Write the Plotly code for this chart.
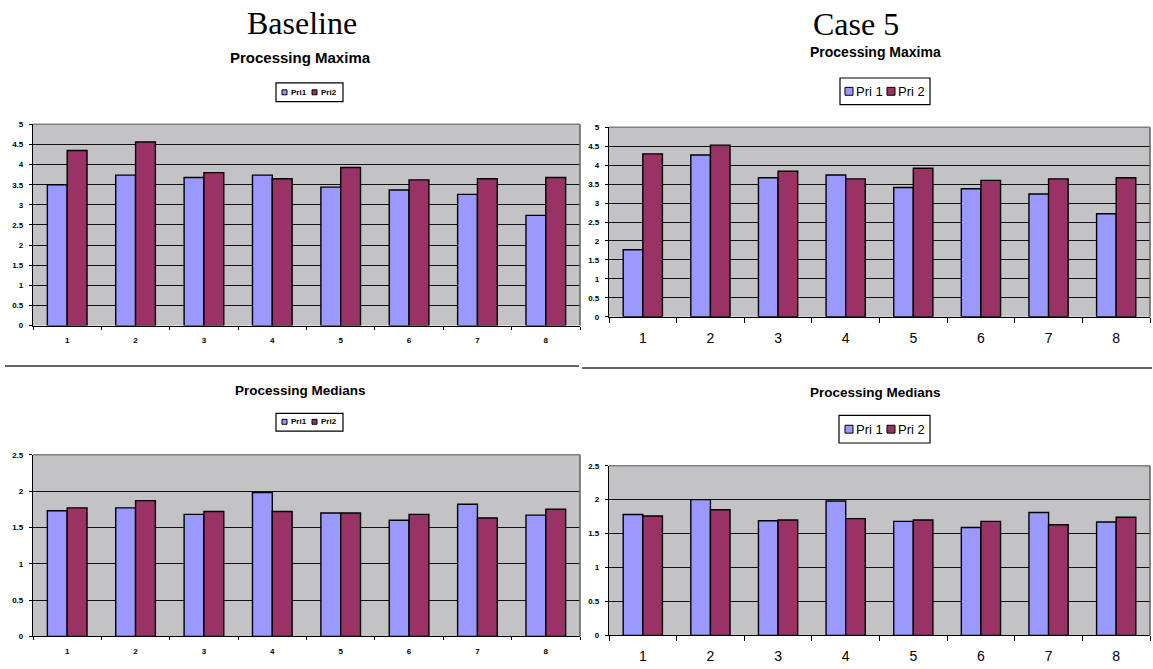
import plotly.graph_objects as go

# ---- data ----
categories = ["1", "2", "3", "4", "5", "6", "7", "8"]

baseline_names = ["Pri1", "Pri2"]
case5_names = ["Pri 1", "Pri 2"]

baseline_max_pri1 = [3.50, 3.74, 3.68, 3.74, 3.44, 3.37, 3.26, 2.74]
baseline_max_pri2 = [4.35, 4.56, 3.80, 3.65, 3.93, 3.62, 3.65, 3.68]

case5_max_pri1 = [1.77, 4.27, 3.67, 3.74, 3.41, 3.38, 3.24, 2.72]
case5_max_pri2 = [4.30, 4.53, 3.84, 3.64, 3.92, 3.60, 3.64, 3.67]

baseline_med_pri1 = [1.73, 1.77, 1.68, 1.98, 1.70, 1.60, 1.82, 1.67]
baseline_med_pri2 = [1.77, 1.87, 1.72, 1.72, 1.70, 1.68, 1.63, 1.75]

case5_med_pri1 = [1.78, 2.00, 1.69, 1.98, 1.68, 1.59, 1.81, 1.67]
case5_med_pri2 = [1.76, 1.85, 1.70, 1.72, 1.70, 1.68, 1.63, 1.74]

# ---- styling ----
W, H = 1153, 669
PRI1_COLOR = "#9999FF"
PRI2_COLOR = "#993366"
PLOT_BG = "#C3C2C5"
FONT = "Liberation Sans, Arial, sans-serif"
SERIF = "Liberation Serif, Times New Roman, serif"


def px(x):
    return x / W


def py(y):
    return 1 - y / H


# panel layout: (suffix, left, top, right, bottom, y max, small x labels, names, values)
panels = [
    dict(ax="", box=(33, 122, 580, 326), ymax=5, small=True,
         names=baseline_names, vals=(baseline_max_pri1, baseline_max_pri2)),
    dict(ax="2", box=(609, 125, 1150, 317), ymax=5, small=False,
         names=case5_names, vals=(case5_max_pri1, case5_max_pri2)),
    dict(ax="3", box=(33, 457, 580, 641), ymax=2.5, small=True,
         names=baseline_names, vals=(baseline_med_pri1, baseline_med_pri2)),
    dict(ax="4", box=(609, 468, 1150, 640), ymax=2.5, small=False,
         names=case5_names, vals=(case5_med_pri1, case5_med_pri2)),
]

fig = go.Figure()
layout = dict(
    width=W, height=H, autosize=False,
    margin=dict(l=0, r=0, t=0, b=0),
    paper_bgcolor="white", plot_bgcolor=PLOT_BG,
    barmode="group", bargap=0.42, bargroupgap=0.0,
    showlegend=False,
    font=dict(family=FONT, color="black"),
)
shapes = []
annotations = []

small_bold = dict(family=FONT, size=8, color="black", weight="bold")

for p in panels:
    s = p["ax"]
    x0, y0, x1, y1 = p["box"]
    xref = "x" + s
    yref = "y" + s
    for name, vals, color in zip(p["names"], p["vals"], (PRI1_COLOR, PRI2_COLOR)):
        fig.add_trace(go.Bar(
            x=categories, y=vals, name=name, xaxis=xref, yaxis=yref,
            marker=dict(color=color, line=dict(color="black", width=1.4)),
        ))
    xfont = small_bold if p["small"] else dict(family=FONT, size=14, color="black")
    layout["xaxis" + s] = dict(
        domain=[px(x0), px(x1)], anchor=yref, type="category",
        showgrid=False, zeroline=False,
        showline=True, linecolor="black", linewidth=1.2,
        ticks="outside", tickson="boundaries", ticklen=3 if p["small"] else 5,
        tickcolor="black", tickwidth=1,
        tickfont=xfont, ticklabelstandoff=7 if p["small"] else 8,
        fixedrange=True,
    )
    layout["yaxis" + s] = dict(
        domain=[py(y1), py(y0)], anchor=xref,
        range=[0, p["ymax"]], dtick=0.5, tick0=0,
        showgrid=True, gridcolor="#111111", gridwidth=1.3,
        zeroline=False,
        showline=True, linecolor="black", linewidth=1.2,
        ticks="outside", ticklen=3, tickcolor="black", tickwidth=1,
        tickfont=small_bold, ticklabelstandoff=4,
        fixedrange=True,
    )
    # plot-area border on top and right
    shapes.append(dict(type="line", xref=xref + " domain", yref=yref + " domain",
                       x0=0, x1=1, y0=1, y1=1, line=dict(color="#808080", width=1.5)))
    shapes.append(dict(type="line", xref=xref + " domain", yref=yref + " domain",
                       x0=1, x1=1, y0=0, y1=1, line=dict(color="#606060", width=1.5)))

# column headings
annotations.append(dict(text="Baseline", x=px(302), y=py(19), xref="paper", yref="paper",
                        showarrow=False, xanchor="center", yanchor="middle",
                        font=dict(family=SERIF, size=32, color="black")))
annotations.append(dict(text="Case 5", x=px(856), y=py(20), xref="paper", yref="paper",
                        showarrow=False, xanchor="center", yanchor="middle",
                        font=dict(family=SERIF, size=32, color="black")))

# chart titles
titles = [
    ("Processing Maxima", 300, 54, 15),
    ("Processing Maxima", 875, 49, 14),
    ("Processing Medians", 300, 392, 13.5),
    ("Processing Medians", 875, 394, 13.5),
]
for text, cx, cy, size in titles:
    annotations.append(dict(text=text, x=px(cx), y=py(cy), xref="paper", yref="paper",
                            showarrow=False, xanchor="center", yanchor="middle",
                            font=dict(family=FONT, size=size, color="black", weight="bold")))

# legend boxes: box, swatch size, swatch x positions, text x positions, centre y, font, names
legends = [
    dict(box=(276, 80, 343, 99), sw=5, swx=(282, 312), tx=(289, 319), cy=89.5,
         font=small_bold, names=baseline_names),
    dict(box=(840, 75, 930, 102), sw=8, swx=(845, 887), tx=(854, 896), cy=88.5,
         font=dict(family=FONT, size=13, color="black"), names=case5_names),
    dict(box=(276, 415, 343, 433), sw=5, swx=(282, 312), tx=(289, 319), cy=423.5,
         font=small_bold, names=baseline_names),
    dict(box=(839, 417, 930, 445), sw=8, swx=(845, 887), tx=(854, 896), cy=431,
         font=dict(family=FONT, size=13, color="black"), names=case5_names),
]
for lg in legends:
    bx0, by0, bx1, by1 = lg["box"]
    shapes.append(dict(type="rect", xref="paper", yref="paper",
                       x0=px(bx0), x1=px(bx1), y0=py(by1), y1=py(by0),
                       line=dict(color="black", width=1.2), fillcolor="white", layer="above"))
    half = lg["sw"] / 2
    for sx, tx, name, color in zip(lg["swx"], lg["tx"], lg["names"], (PRI1_COLOR, PRI2_COLOR)):
        shapes.append(dict(type="rect", xref="paper", yref="paper",
                           x0=px(sx), x1=px(sx + lg["sw"]),
                           y0=py(lg["cy"] + half), y1=py(lg["cy"] - half),
                           line=dict(color="black", width=1), fillcolor=color, layer="above"))
        annotations.append(dict(text=name, x=px(tx), y=py(lg["cy"]), xref="paper", yref="paper",
                                showarrow=False, xanchor="left", yanchor="middle",
                                font=lg["font"]))

# separators between the upper and lower charts
shapes.append(dict(type="line", xref="paper", yref="paper",
                   x0=px(5), x1=px(579), y0=py(367), y1=py(367),
                   line=dict(color="#303030", width=1.5)))
shapes.append(dict(type="line", xref="paper", yref="paper",
                   x0=px(582), x1=px(1152), y0=py(369), y1=py(369),
                   line=dict(color="#303030", width=1.5)))

layout["shapes"] = shapes
layout["annotations"] = annotations
fig.update_layout(**layout)

fig.write_html("out.html", config={"displayModeBar": False})
